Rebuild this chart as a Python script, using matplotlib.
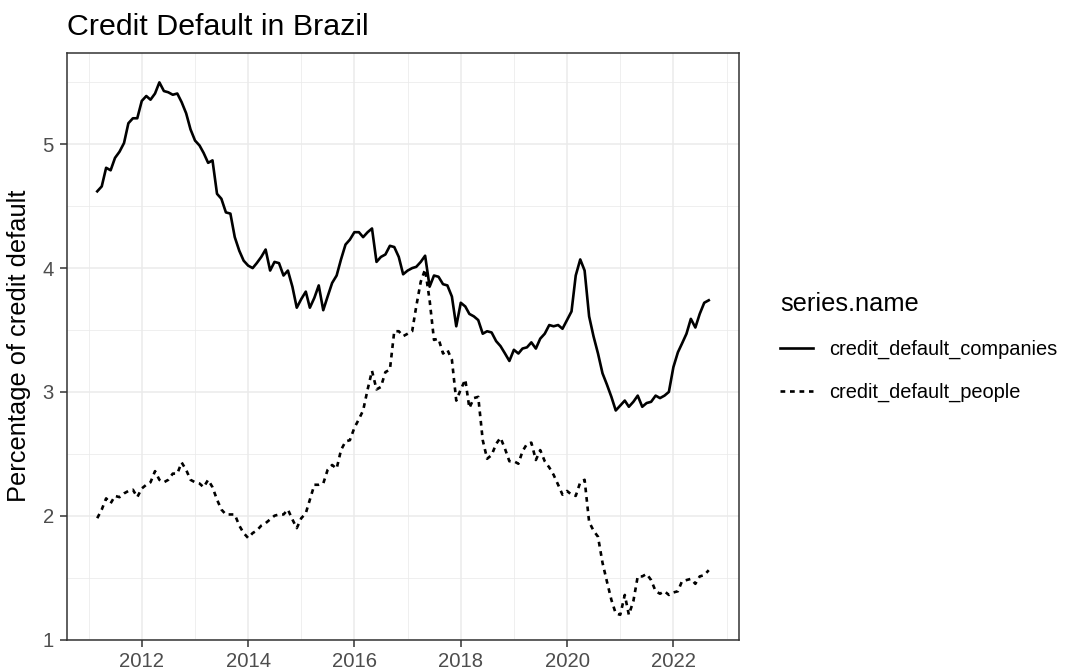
import pandas as pd
import numpy as np
import matplotlib
matplotlib.use("Agg")
import matplotlib.pyplot as plt
import matplotlib.dates as mdates

plt.rcParams['font.family'] = ['Liberation Sans', 'DejaVu Sans']

# monthly series, Mar 2011 - Sep 2022
start_month = '2011-03-01'

companies = [4.62, 4.66, 4.81, 4.79, 4.89, 4.94, 5.01, 5.17, 5.21, 5.21, 5.35, 5.39,
             5.36, 5.41, 5.50, 5.43, 5.42, 5.40, 5.41, 5.34, 5.25, 5.12, 5.03, 4.99,
             4.93, 4.85, 4.87, 4.60, 4.56, 4.45, 4.44, 4.25, 4.14, 4.06, 4.02,
             4.00, 4.04, 4.09, 4.15, 3.98, 4.05, 4.04, 3.94, 3.98, 3.85, 3.68, 3.75,
             3.81, 3.68, 3.76, 3.86, 3.66, 3.77, 3.88, 3.94, 4.07, 4.19, 4.23, 4.29,
             4.29, 4.25, 4.29, 4.32, 4.05, 4.09, 4.11, 4.18, 4.17, 4.09, 3.95,
             3.98, 4.00, 4.01, 4.05, 4.10, 3.85, 3.94, 3.93, 3.87, 3.86, 3.77, 3.53,
             3.72, 3.69, 3.63, 3.61, 3.58, 3.47, 3.49, 3.48, 3.41, 3.37, 3.31, 3.25,
             3.34, 3.31, 3.35, 3.36, 3.40, 3.35, 3.43, 3.47,
             3.54, 3.53, 3.54, 3.51, 3.58, 3.65, 3.94, 4.07, 3.98, 3.61, 3.45, 3.31,
             3.15, 3.06, 2.96, 2.85, 2.89, 2.93, 2.88, 2.92, 2.97, 2.88, 2.91, 2.92,
             2.97, 2.95, 2.97, 3.00, 3.20, 3.32, 3.39, 3.47, 3.59, 3.52, 3.63, 3.72, 3.74]

people = [1.98, 2.05, 2.14, 2.10, 2.16, 2.15, 2.18, 2.20, 2.21, 2.15, 2.22, 2.25,
          2.27, 2.36, 2.29, 2.27, 2.29, 2.34, 2.34, 2.43, 2.37, 2.29, 2.27, 2.26,
          2.23, 2.29, 2.23, 2.13, 2.05, 2.01, 2.01, 2.01, 1.92, 1.86, 1.82,
          1.86, 1.88, 1.92, 1.94, 1.97, 2.00, 2.01, 2.01, 2.05, 1.97, 1.90, 1.98,
          2.02, 2.13, 2.25, 2.25, 2.26, 2.37, 2.41, 2.38, 2.53, 2.60, 2.61, 2.71,
          2.78, 2.85, 3.02, 3.17, 3.02, 3.04, 3.16, 3.18, 3.49, 3.49, 3.45,
          3.47, 3.49, 3.69, 3.89, 3.99, 3.74, 3.42, 3.43, 3.31, 3.34, 3.26, 2.93,
          3.02, 3.10, 2.87, 2.95, 2.96, 2.61, 2.46, 2.49, 2.58, 2.63, 2.54, 2.44,
          2.44, 2.42, 2.52, 2.58, 2.59, 2.45, 2.53, 2.44,
          2.39, 2.33, 2.25, 2.17, 2.20, 2.17, 2.16, 2.27, 2.29, 1.95, 1.88, 1.83,
          1.62, 1.47, 1.32, 1.21, 1.20, 1.36, 1.20, 1.31, 1.51, 1.51, 1.53, 1.48,
          1.39, 1.37, 1.39, 1.36, 1.38, 1.39, 1.47, 1.48, 1.49, 1.45, 1.51, 1.52, 1.56]

series_names = ['credit_default_companies', 'credit_default_people']

dates = pd.date_range(start_month, periods=len(companies), freq='MS')

fig = plt.figure(figsize=(10.65, 6.71), dpi=100)
ax = fig.add_axes([0.0626, 0.0469, 0.6316, 0.8737])

# the two lines, ggplot linetype solid / dashed
ax.plot(dates, companies, color='black', lw=1.9, label=series_names[0])
ax.plot(dates, people, color='black', lw=1.9, linestyle=(0, (1.8, 1.8)),
        label=series_names[1])

# x range with 5% expansion like ggplot
d0 = mdates.date2num(dates[0])
d1 = mdates.date2num(dates[-1])
pad = (d1 - d0) * 0.05
ax.set_xlim(d0 - pad, d1 + pad)
ax.set_ylim(1.0, 5.735)

ax.xaxis.set_major_locator(mdates.YearLocator(2))
ax.xaxis.set_minor_locator(mdates.YearLocator(1))
ax.xaxis.set_major_formatter(mdates.DateFormatter('%Y'))
ax.set_yticks([1, 2, 3, 4, 5])
ax.set_yticks([1.5, 2.5, 3.5, 4.5, 5.5], minor=True)

# theme_bw look
ax.set_facecolor('white')
ax.grid(which='major', color='#EBEBEB', lw=1.1)
ax.grid(which='minor', color='#EBEBEB', lw=0.55)
ax.set_axisbelow(True)
for sp in ax.spines.values():
    sp.set_color('#333333')
    sp.set_linewidth(1.1)
ax.tick_params(which='major', length=4.7, width=1.1, color='#333333',
               labelsize=14.6, labelcolor='#4D4D4D', pad=4.5)
ax.tick_params(which='minor', length=0)

fig.text(19 / 1065, 1 - 346 / 671, 'Percentage of credit default', rotation=90,
         ha='center', va='center', fontsize=18.3)
fig.text(67 / 1065, 1 - 35 / 671, 'Credit Default in Brazil', ha='left',
         va='baseline', fontsize=21.9)

leg = fig.legend(loc='upper left', bbox_to_anchor=(762 / 1065, 1 - 274 / 671),
                 frameon=False, title='series.name', fontsize=14.4,
                 title_fontsize=18.3, handlelength=1.65, handletextpad=0.8,
                 labelspacing=1.2, alignment='left')

plt.savefig('out.png', dpi=100)
